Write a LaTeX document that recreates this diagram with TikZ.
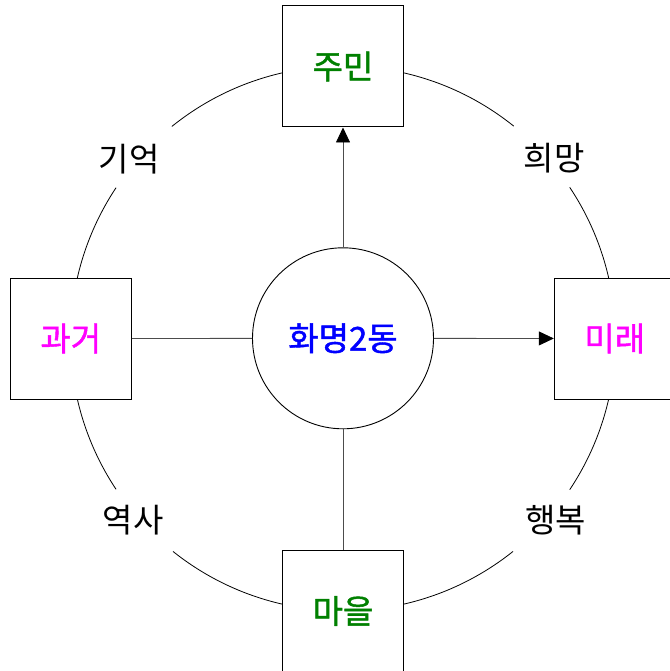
\documentclass[tikz,border=0pt]{standalone}
\usepackage{fontspec}
\setmainfont{Noto Sans CJK KR}
\newfontfamily\kr{Noto Sans CJK KR}
\newfontfamily\krm[FakeBold=1.3]{Noto Sans CJK KR}
\usetikzlibrary{arrows.meta}
\definecolor{kgreen}{RGB}{0,128,0}
\definecolor{kmag}{RGB}{255,0,255}
\definecolor{kblue}{RGB}{0,0,255}
\tikzset{
  box/.style={draw=black, line width=1pt, fill=white, minimum width=121pt, minimum height=121pt, inner sep=0pt, font=\krm\fontsize{33pt}{35pt}\selectfont},
  hub/.style={circle, draw=black, line width=0.9pt, fill=white, minimum size=181pt, inner sep=0pt, font=\krm\fontsize{33pt}{35pt}\selectfont},
  lbl/.style={inner sep=0pt, font=\kr\fontsize{33pt}{35pt}\selectfont},
  ring/.style={draw=black, line width=0.8pt},
  conn/.style={draw=black!70, line width=0.8pt},
  arr/.style={conn, -{Triangle[length=15pt,width=14pt,color=black]}}
}
\begin{document}
\begin{tikzpicture}[x=1pt,y=1pt]
\useasboundingbox (0,0) rectangle (669,-671);
\coordinate (C) at (343,-338.5);
% ring arcs
\draw[ring] (C) ++(51.2:272.5pt) arc[start angle=51.2, end angle=128.9, radius=272.5pt];
\draw[ring] (C) ++(146.4:272.5pt) arc[start angle=146.4, end angle=213.6, radius=272.5pt];
\draw[ring] (C) ++(231.4:272.5pt) arc[start angle=231.4, end angle=308.6, radius=272.5pt];
\draw[ring] (C) ++(326.3:272.5pt) arc[start angle=326.3, end angle=393.7, radius=272.5pt];
% nodes
\node[hub] (ctr) at (343,-338.3) {\textcolor{kblue}{화명2동}};
\node[box] (top) at (343,-66.5) {\textcolor{kgreen}{주민}};
\node[box] (left) at (70.8,-338.5) {\textcolor{kmag}{과거}};
\node[box] (right) at (614.8,-338.5) {\textcolor{kmag}{미래}};
\node[box] (bot) at (343,-611) {\textcolor{kgreen}{마을}};
% labels
\node[lbl] (l1) at (129,-159) {기억};
\node[lbl] (l2) at (554,-158.5) {희망};
\node[lbl] (l3) at (133,-520) {역사};
\node[lbl] (l4) at (555.5,-520) {행복};
% connectors
\draw[arr] (ctr) -- (top);
\draw[arr] (ctr) -- (right);
\draw[conn] (ctr) -- (left);
\draw[conn] (ctr) -- (bot);
\end{tikzpicture}
\end{document}
